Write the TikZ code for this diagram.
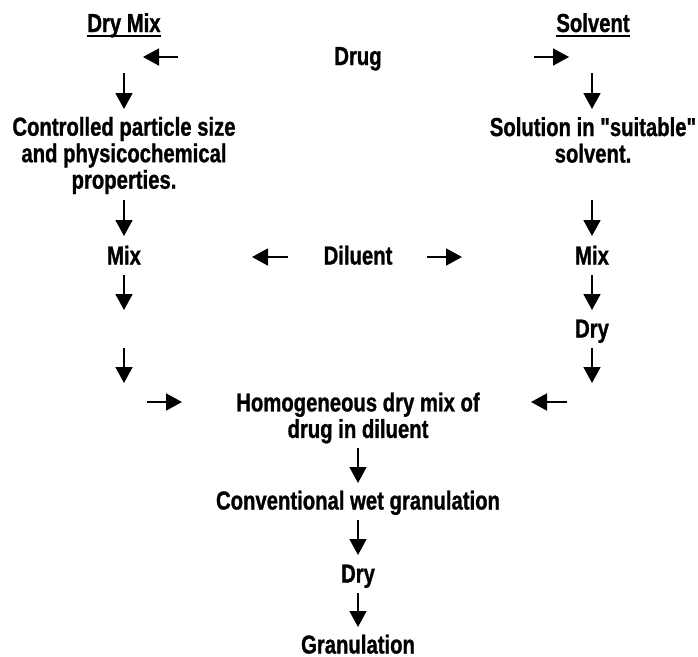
\documentclass[tikz,border=0pt]{standalone}
\usepackage{fontspec}
\setmainfont{Liberation Sans}[Ligatures=TeXOff, FakeStretch=0.78, BoldFeatures={FakeBold=1}]
\usetikzlibrary{arrows.meta}
\begin{document}
\begin{tikzpicture}[x=1pt,y=-1pt,
  lbl/.style={font=\bfseries\fontsize{26}{26.5}\selectfont, inner sep=0pt, align=center},
  flow/.style={-{Triangle[length=16pt,width=17pt]}, line width=1.8pt},
  uline/.style={line width=2pt}]
\useasboundingbox (0,0) rectangle (698,656);

% headings
\node[lbl,anchor=base] (drymix) at (124,32) {Dry Mix};
\node[lbl,anchor=base] (solvent) at (593,32) {Solvent};
\draw[uline] ([yshift=-3.5pt]drymix.base west) -- ([yshift=-3.5pt]drymix.base east);
\draw[uline] ([yshift=-3.5pt]solvent.base west) -- ([yshift=-3.5pt]solvent.base east);

% steps
\node[lbl,anchor=base] (drug) at (358,65) {Drug};
\node[lbl] (ctrl) at (124,155.5) {Controlled particle size\\and physicochemical\\properties.};
\node[lbl] (soln) at (593,140) {Solution in "suitable"\\solvent.};
\node[lbl,anchor=base] (mixL) at (124,264.5) {Mix};
\node[lbl,anchor=base] (diluent) at (358,264.5) {Diluent};
\node[lbl,anchor=base] (mixR) at (592,264.5) {Mix};
\node[lbl,anchor=base] (dryR) at (592,337.5) {Dry};
\node[lbl] (homog) at (358,418) {Homogeneous dry mix of\\drug in diluent};
\node[lbl,anchor=base] (conv) at (358,509.5) {Conventional wet granulation};
\node[lbl,anchor=base] (dryC) at (358,582.5) {Dry};
\node[lbl,anchor=base] (gran) at (358,653.5) {Granulation};

% arrow end points
\coordinate (dl0) at (178,57);  \coordinate (dl1) at (143,57);
\coordinate (dr0) at (534,57);  \coordinate (dr1) at (569,57);
\coordinate (la0) at (124,73);  \coordinate (la1) at (124,109);
\coordinate (lb0) at (124,200); \coordinate (lb1) at (124,236);
\coordinate (lc0) at (124,275); \coordinate (lc1) at (124,310);
\coordinate (ld0) at (124,348); \coordinate (ld1) at (124,383);
\coordinate (ra0) at (592,73);  \coordinate (ra1) at (592,109);
\coordinate (rb0) at (592,200); \coordinate (rb1) at (592,236);
\coordinate (rc0) at (592,275); \coordinate (rc1) at (592,310);
\coordinate (rd0) at (592,348); \coordinate (rd1) at (592,383);
\coordinate (gl0) at (288,257); \coordinate (gl1) at (252,257);
\coordinate (gr0) at (427,257); \coordinate (gr1) at (462,257);
\coordinate (hl0) at (147,402); \coordinate (hl1) at (182,402);
\coordinate (hr0) at (567,402); \coordinate (hr1) at (531,402);
\coordinate (ca0) at (358,448); \coordinate (ca1) at (358,483);
\coordinate (cb0) at (358,520); \coordinate (cb1) at (358,555);
\coordinate (cc0) at (358,593); \coordinate (cc1) at (358,627);

% arrows
\foreach \a in {dl,dr,la,lb,lc,ld,ra,rb,rc,rd,gl,gr,hl,hr,ca,cb,cc}
  \draw[flow] (\a0) -- (\a1);
\end{tikzpicture}
\end{document}
